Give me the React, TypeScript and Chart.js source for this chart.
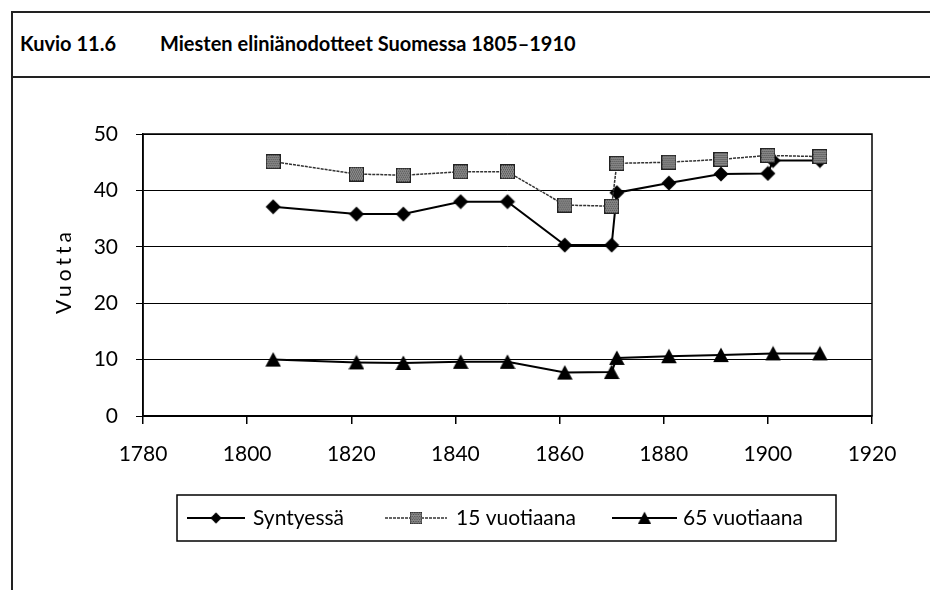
import React, { useEffect, useRef } from "react";
import { Chart, registerables } from "chart.js";

Chart.register(...registerables);

// ---- data ----
const seriesNames = ["Syntyessä", "15 vuotiaana", "65 vuotiaana"];
const birthYears = [1805, 1821, 1830, 1841, 1850, 1861, 1870, 1871, 1881, 1891, 1900, 1901, 1910];
const birthValues = [37.1, 35.8, 35.8, 38.0, 38.0, 30.3, 30.3, 39.6, 41.3, 42.9, 43.0, 45.3, 45.3];
const age15Years = [1805, 1821, 1830, 1841, 1850, 1861, 1870, 1871, 1881, 1891, 1900, 1910];
const age15Values = [45.1, 42.9, 42.7, 43.3, 43.3, 37.4, 37.2, 44.8, 45.0, 45.5, 46.2, 46.0];
const age65Years = [1805, 1821, 1830, 1841, 1850, 1861, 1870, 1871, 1881, 1891, 1901, 1910];
const age65Values = [10.0, 9.5, 9.4, 9.6, 9.6, 7.7, 7.8, 10.3, 10.6, 10.8, 11.1, 11.1];
const xMin = 1780;
const xMax = 1920;
const xStep = 20;
const yMin = 0;
const yMax = 50;
const yStep = 10;
const yTitle = "Vuotta";
const figureNo = "Kuvio 11.6";
const figureTitle = "Miesten eliniänodotteet Suomessa 1805–1910";

const FONT = "Lato, 'DejaVu Sans Condensed', sans-serif";

function makeMarker(kind: string): HTMLCanvasElement {
  const c = document.createElement("canvas");
  const s = kind === "square" ? 15 : 16;
  c.width = s;
  c.height = s;
  const g = c.getContext("2d")!;
  if (kind === "diamond") {
    g.fillStyle = "#000";
    g.beginPath();
    g.moveTo(8, 0.5);
    g.lineTo(15.5, 8);
    g.lineTo(8, 15.5);
    g.lineTo(0.5, 8);
    g.closePath();
    g.fill();
  } else if (kind === "square") {
    g.fillStyle = "#888";
    g.fillRect(0, 0, 15, 15);
    g.fillStyle = "#4a4a4a";
    for (let yy = 1; yy < 14; yy += 2) {
      for (let xx = 1 + ((yy >> 1) % 2); xx < 14; xx += 2) {
        g.fillRect(xx, yy, 1, 1);
      }
    }
    g.strokeStyle = "#222";
    g.lineWidth = 1;
    g.strokeRect(0.5, 0.5, 14, 14);
  } else {
    g.fillStyle = "#000";
    g.beginPath();
    g.moveTo(8, 0.5);
    g.lineTo(15.8, 15);
    g.lineTo(0.2, 15);
    g.closePath();
    g.fill();
  }
  return c;
}

export default function App() {
  const ref = useRef<HTMLCanvasElement | null>(null);

  useEffect(() => {
    if (!ref.current) return;
    const diamond = makeMarker("diamond");
    const square = makeMarker("square");
    const triangle = makeMarker("triangle");
    const markers = [diamond, square, triangle];

    const framePlugin = {
      id: "framePlugin",
      afterDraw(chart: any) {
        const ctx = chart.ctx as CanvasRenderingContext2D;
        const a = chart.chartArea;
        ctx.save();
        ctx.strokeStyle = "#000";
        ctx.lineWidth = 1.5;
        ctx.strokeRect(a.left, a.top, a.right - a.left, a.bottom - a.top);

        // y title with letter spacing
        ctx.save();
        const ls = 4;
        ctx.translate(64, (a.top + a.bottom) / 2 - 6 + ls / 2);
        ctx.rotate(-Math.PI / 2);
        (ctx as any).letterSpacing = ls + "px";
        ctx.font = `21px ${FONT}`;
        ctx.fillStyle = "#000";
        ctx.textAlign = "center";
        ctx.textBaseline = "middle";
        ctx.fillText(yTitle, 0, 0);
        ctx.restore();

        // legend box
        const bx = 177, by = 495, bw = 659, bh = 46;
        ctx.lineWidth = 1.5;
        ctx.strokeStyle = "#000";
        ctx.strokeRect(bx, by, bw, bh);
        const ly = by + 23;
        const items = [
          { x0: 187, x1: 245, text: 253, color: "#000", width: 2, dash: [] as number[] },
          { x0: 385, x1: 447, text: 456, color: "#333", width: 1.5, dash: [3, 1] },
          { x0: 612, x1: 677, text: 683, color: "#000", width: 2, dash: [] as number[] },
        ];
        items.forEach((it, i) => {
          ctx.beginPath();
          ctx.setLineDash(it.dash);
          ctx.strokeStyle = it.color;
          ctx.lineWidth = it.width;
          ctx.moveTo(it.x0, ly);
          ctx.lineTo(it.x1, ly);
          ctx.stroke();
          ctx.setLineDash([]);
          const m = markers[i];
          const mx = (it.x0 + it.x1) / 2;
          const scale = i === 0 ? 0.75 : 0.85;
          const w = m.width * scale, h = m.height * scale;
          ctx.drawImage(m, mx - w / 2, ly - h / 2, w, h);
          ctx.font = `21px ${FONT}`;
          ctx.fillStyle = "#000";
          ctx.textAlign = "left";
          ctx.textBaseline = "middle";
          ctx.fillText(seriesNames[i], it.text, ly);
        });
        ctx.restore();
      },
    };

    const chart = new Chart(ref.current, {
      type: "line",
      data: {
        datasets: [
          {
            label: seriesNames[0],
            data: birthYears.map((x, i) => ({ x, y: birthValues[i] })),
            borderColor: "#000",
            backgroundColor: "#000",
            borderWidth: 2,
            pointStyle: diamond,
            pointRadius: 8,
            order: 3,
          },
          {
            label: seriesNames[1],
            data: age15Years.map((x, i) => ({ x, y: age15Values[i] })),
            borderColor: "#333",
            backgroundColor: "#888",
            borderWidth: 1.5,
            borderDash: [3, 1],
            pointStyle: square,
            pointRadius: 8,
            order: 2,
          },
          {
            label: seriesNames[2],
            data: age65Years.map((x, i) => ({ x, y: age65Values[i] })),
            borderColor: "#000",
            backgroundColor: "#000",
            borderWidth: 2,
            pointStyle: triangle,
            pointRadius: 8,
            order: 1,
          },
        ],
      },
      options: {
        animation: false,
        responsive: false,
        maintainAspectRatio: false,
        devicePixelRatio: 1,
        layout: { padding: { left: 49, top: 134, right: 58, bottom: 114 } },
        plugins: {
          legend: { display: false },
          title: { display: false },
          tooltip: { enabled: false },
        },
        elements: { line: { tension: 0 } },
        scales: {
          x: {
            type: "linear",
            min: xMin,
            max: xMax,
            afterFit: (s: any) => {
              s.height = 60;
            },
            ticks: {
              stepSize: xStep,
              color: "#000",
              padding: 18,
              font: { family: FONT, size: 21 },
              callback: (v: any) => String(v),
            },
            grid: {
              drawOnChartArea: false,
              drawTicks: true,
              tickLength: 8,
              color: "#000",
              lineWidth: 1.5,
            },
            border: { display: true, color: "#000", width: 1.5 },
          },
          y: {
            min: yMin,
            max: yMax,
            afterFit: (s: any) => {
              s.width = 94;
            },
            ticks: {
              stepSize: yStep,
              color: "#000",
              padding: 18,
              font: { family: FONT, size: 21 },
              callback: (v: any) => String(v),
            },
            grid: {
              color: "#000",
              lineWidth: 1,
              drawTicks: true,
              tickLength: 7,
            },
            border: { display: true, color: "#000", width: 1.5 },
          },
        },
      },
      plugins: [framePlugin],
    });
    return () => chart.destroy();
  }, []);

  const textStyle: React.CSSProperties = {
    position: "absolute",
    top: 30,
    fontFamily: FONT,
    fontWeight: "bold",
    fontSize: 20,
    lineHeight: "26px",
    color: "#000",
    whiteSpace: "nowrap",
  };

  return (
    <div style={{ position: "absolute", left: 0, top: 0, width: 930, height: 590, background: "#fff", overflow: "hidden" }}>
      <div style={{ position: "absolute", left: 12, top: 11, width: 918, height: 2, background: "#222" }} />
      <div style={{ position: "absolute", left: 12, top: 76, width: 918, height: 2, background: "#222" }} />
      <div style={{ position: "absolute", left: 11, top: 11, width: 2, height: 579, background: "#222" }} />
      <div style={{ ...textStyle, left: 20 }}>{figureNo}</div>
      <div style={{ ...textStyle, left: 160 }}>{figureTitle}</div>
      <canvas ref={ref} width={930} height={590} style={{ position: "absolute", left: 0, top: 0, width: 930, height: 590 }} />
    </div>
  );
}
